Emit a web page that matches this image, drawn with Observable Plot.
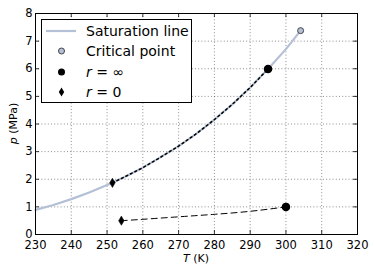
<!DOCTYPE html>
<html>
<head>
<meta charset="utf-8">
<script src="https://cdn.jsdelivr.net/npm/d3@7"></script>
<script src="https://cdn.jsdelivr.net/npm/@observablehq/plot@0.6"></script>
<style>
  html, body { margin: 0; padding: 0; background: #fff; }
  #wrap { position: relative; width: 374px; height: 273px; font-family: "DejaVu Sans", sans-serif; }
  #legend { position: absolute; left: 41px; top: 19px; width: 149px; height: 82px; border: 1px solid #000; background: #fff; box-sizing: content-box; }
  #legend svg { display: block; }
</style>
</head>
<body>
<div id="wrap"></div>
<script>
// Saturation line (T in K, p in MPa)
const satT = [230, 235, 240, 245, 250, 251.5, 255, 260, 265, 270, 275, 280, 285, 290, 295, 300, 304.1];
const satP = [0.89, 1.07, 1.28, 1.52, 1.79, 1.87, 2.09, 2.42, 2.80, 3.20, 3.65, 4.16, 4.71, 5.32, 5.99, 6.71, 7.38];
// Critical point
const critT = [304.1];
const critP = [7.38];
// r = infinity end point on the saturation line
const rInfT = [295];
const rInfP = [5.99];
// r = 0 start point on the saturation line
const r0T = [251.5];
const r0P = [1.87];
// lower dashed path
const lowT = [254, 260, 270, 280, 290, 300];
const lowP = [0.50, 0.55, 0.64, 0.73, 0.84, 1.00];
const lowStartT = [254];
const lowStartP = [0.50];
const lowEndT = [300];
const lowEndP = [1.00];
// ticks
const xTicks = [230, 240, 250, 260, 270, 280, 290, 300, 310, 320];
const yTicks = [0, 1, 2, 3, 4, 5, 6, 7, 8];
const legendLabels = ["Saturation line", "Critical point", "r = \u221E", "r = 0"];

const satColor = "#b3c0d6";

const sat = satT.map((t, i) => ({T: t, p: satP[i]}));
const dotted = sat.filter(d => d.T >= r0T[0] && d.T <= rInfT[0]);
const low = lowT.map((t, i) => ({T: t, p: lowP[i]}));
const crit = critT.map((t, i) => ({T: t, p: critP[i]}));
const rInf = rInfT.map((t, i) => ({T: t, p: rInfP[i]})).concat(lowEndT.map((t, i) => ({T: t, p: lowEndP[i]})));
const r0 = r0T.map((t, i) => ({T: t, p: r0P[i]})).concat(lowStartT.map((t, i) => ({T: t, p: lowStartP[i]})));

const thinDiamond = {
  draw(ctx, size) {
    const h = Math.sqrt(size) * 0.62;
    const w = h * 0.6;
    ctx.moveTo(0, -h); ctx.lineTo(w, 0); ctx.lineTo(0, h); ctx.lineTo(-w, 0); ctx.closePath();
  }
};

const W = 374, H = 273, mL = 35, mR = 17, mT = 13, mB = 39;
const innerH = H - mT - mB, innerW = W - mL - mR;
const tl = 4;

const chart = Plot.plot({
  width: W, height: H,
  marginLeft: mL, marginRight: mR, marginTop: mT, marginBottom: mB,
  style: {fontFamily: "DejaVu Sans, sans-serif", fontSize: "11px", background: "#fff", overflow: "visible", color: "#000"},
  x: {domain: [230, 320], ticks: xTicks},
  y: {domain: [0, 8], ticks: yTicks},
  marks: [
    Plot.gridX(xTicks, {stroke: "#000", strokeOpacity: 0.75, strokeWidth: 0.6, strokeDasharray: "1,2.2"}),
    Plot.gridY(yTicks, {stroke: "#000", strokeOpacity: 0.75, strokeWidth: 0.6, strokeDasharray: "1,2.2"}),
    // inward ticks on all sides
    Plot.ruleX(xTicks, {x: d => d, insetTop: innerH - tl, stroke: "#000", strokeWidth: 0.8}),
    Plot.ruleX(xTicks, {x: d => d, insetBottom: innerH - tl, stroke: "#000", strokeWidth: 0.8}),
    Plot.ruleY(yTicks, {y: d => d, insetRight: innerW - tl, stroke: "#000", strokeWidth: 0.8}),
    Plot.ruleY(yTicks, {y: d => d, insetLeft: innerW - tl, stroke: "#000", strokeWidth: 0.8}),
    Plot.axisX({ticks: xTicks, tickSize: 0, tickPadding: 6, fontSize: 11.5, tickFormat: d => String(d), label: null}),
    Plot.axisY({ticks: yTicks, tickSize: 0, tickPadding: 3, fontSize: 11.5, tickFormat: d => String(d), label: null}),
    Plot.line(sat, {x: "T", y: "p", stroke: satColor, strokeWidth: 2.2}),
    Plot.line(dotted, {x: "T", y: "p", stroke: "#000", strokeWidth: 1.5, strokeDasharray: "2,3"}),
    Plot.line(low, {x: "T", y: "p", stroke: "#000", strokeWidth: 1, strokeDasharray: "6,4", curve: "natural"}),
    Plot.dot(crit, {x: "T", y: "p", r: 3, fill: satColor, stroke: "#444", strokeWidth: 1}),
    Plot.dot(rInf, {x: "T", y: "p", r: 3.5, fill: "#000", stroke: "#000"}),
    Plot.dot(r0, {x: "T", y: "p", symbol: thinDiamond, r: 4.2, fill: "#000", stroke: "#000", strokeWidth: 0.5}),
    Plot.frame({stroke: "#000", strokeWidth: 1})
  ]
});

const wrap = document.getElementById("wrap");
wrap.appendChild(chart);

// axis labels
const svg = d3.select(chart);
svg.append("text")
  .attr("x", mL + innerW / 2).attr("y", 262)
  .attr("text-anchor", "middle").attr("font-size", 11).attr("fill", "#000")
  .attr("font-family", "DejaVu Sans, sans-serif")
  .html('<tspan font-style="italic">T</tspan> (K)');
svg.append("text")
  .attr("transform", `translate(17,${mT + innerH / 2}) rotate(-90)`)
  .attr("text-anchor", "middle").attr("font-size", 11).attr("fill", "#000")
  .attr("font-family", "DejaVu Sans, sans-serif")
  .html('<tspan font-style="italic">p</tspan> (MPa)');

// legend (overlay)
const leg = document.createElement("div");
leg.id = "legend";
wrap.appendChild(leg);
const ls = d3.select(leg).append("svg").attr("width", 149).attr("height", 82)
  .attr("font-family", "DejaVu Sans, sans-serif").attr("font-size", 14);
const rowY = [11, 31, 52, 72];
ls.append("line").attr("x1", 4).attr("x2", 34).attr("y1", rowY[0]).attr("y2", rowY[0])
  .attr("stroke", satColor).attr("stroke-width", 2.2);
ls.append("circle").attr("cx", 19.5).attr("cy", rowY[1]).attr("r", 3)
  .attr("fill", satColor).attr("stroke", "#444");
ls.append("circle").attr("cx", 19.5).attr("cy", rowY[2]).attr("r", 3.5).attr("fill", "#000");
ls.append("path").attr("transform", `translate(19.5,${rowY[3]})`)
  .attr("d", "M0,-4.5L2.7,0L0,4.5L-2.7,0Z").attr("fill", "#000");
const texts = ls.selectAll("text.l").data(legendLabels).join("text")
  .attr("x", 44).attr("y", (d, i) => rowY[i]).attr("dy", "0.36em").attr("fill", "#000");
texts.each(function(d, i) {
  const t = d3.select(this);
  if (i >= 2) {
    const parts = d.split(" = ");
    t.append("tspan").attr("font-style", "italic").text(parts[0]);
    t.append("tspan").text(" = ");
    t.append("tspan").text(parts[1]);
  } else {
    t.text(d);
  }
});
</script>
</body>
</html>
